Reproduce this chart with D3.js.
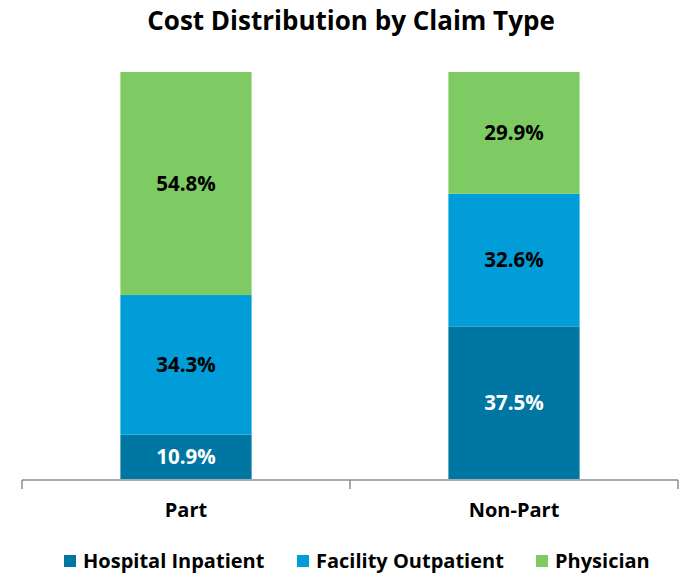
<!DOCTYPE html>
<html><head><meta charset="utf-8">
<script src="https://cdn.jsdelivr.net/npm/d3@7"></script>
<style>body{margin:0;background:#fff}svg{display:block;font-family:"Open Sans",Lato,sans-serif}</style>
</head><body><svg id="c" width="679" height="573"></svg>
<script>
const categories = ["Part", "Non-Part"];
const seriesNames = ["Hospital Inpatient", "Facility Outpatient", "Physician"];
const hospitalInpatient = [10.9, 37.5];
const facilityOutpatient = [34.3, 32.6];
const physician = [54.8, 29.9];
const colors = ["#0076a3", "#009dd9", "#7dcb62"];
const labelColors = ["#ffffff", "#000000", "#000000"];

const svg = d3.select("#c");
const x = d3.scaleBand().domain(categories).range([22, 678]).paddingInner(0.6).paddingOuter(0.3);
const y = d3.scaleLinear().domain([0, 100]).range([479, 72]);

const rows = categories.map((c, i) => ({cat: c, "Hospital Inpatient": hospitalInpatient[i], "Facility Outpatient": facilityOutpatient[i], "Physician": physician[i]}));
const stacked = d3.stack().keys(seriesNames)(rows);

svg.append("text").attr("x", 351).attr("y", 30).attr("text-anchor", "middle")
  .attr("font-size", 26).attr("font-weight", "bold").attr("fill", "#000").text("Cost Distribution by Claim Type");

const g = svg.append("g");
stacked.forEach((s, si) => {
  g.selectAll(null).data(s).join("rect")
    .attr("x", d => x(d.data.cat)).attr("width", x.bandwidth())
    .attr("y", d => y(d[1])).attr("height", d => y(d[0]) - y(d[1]))
    .attr("fill", colors[si]);
  g.selectAll(null).data(s).join("text")
    .attr("x", d => x(d.data.cat) + x.bandwidth() / 2)
    .attr("y", d => (y(d[0]) + y(d[1])) / 2).attr("dy", "0.36em")
    .attr("text-anchor", "middle").attr("font-size", 20.5).attr("font-weight", "bold")
    .attr("fill", labelColors[si]).text(d => (d[1] - d[0]).toFixed(1) + "%");
});

// axis
const ax = svg.append("g");
ax.append("line").attr("x1", 22).attr("x2", 678).attr("y1", 480).attr("y2", 480).attr("stroke", "#8c8c8c").attr("stroke-width", 1.5);
const tickPos = [22, 22 + x.step(), 678];
ax.selectAll(null).data(tickPos).join("line")
  .attr("x1", d => d).attr("x2", d => d).attr("y1", 480).attr("y2", 489)
  .attr("stroke", "#8c8c8c").attr("stroke-width", 1.5);
ax.selectAll(null).data(categories).join("text")
  .attr("x", d => x(d) + x.bandwidth() / 2).attr("y", 517).attr("text-anchor", "middle")
  .attr("font-size", 20).attr("font-weight", "bold").attr("fill", "#000").text(d => d);

// legend
const legX = [64, 297, 536];
const leg = svg.append("g");
seriesNames.forEach((n, i) => {
  leg.append("rect").attr("x", legX[i]).attr("y", 555).attr("width", 12).attr("height", 12).attr("fill", colors[i]);
  leg.append("text").attr("x", legX[i] + 19).attr("y", 568).attr("font-size", 20).attr("font-weight", "bold").attr("fill", "#000").text(n);
});
</script></body></html>
